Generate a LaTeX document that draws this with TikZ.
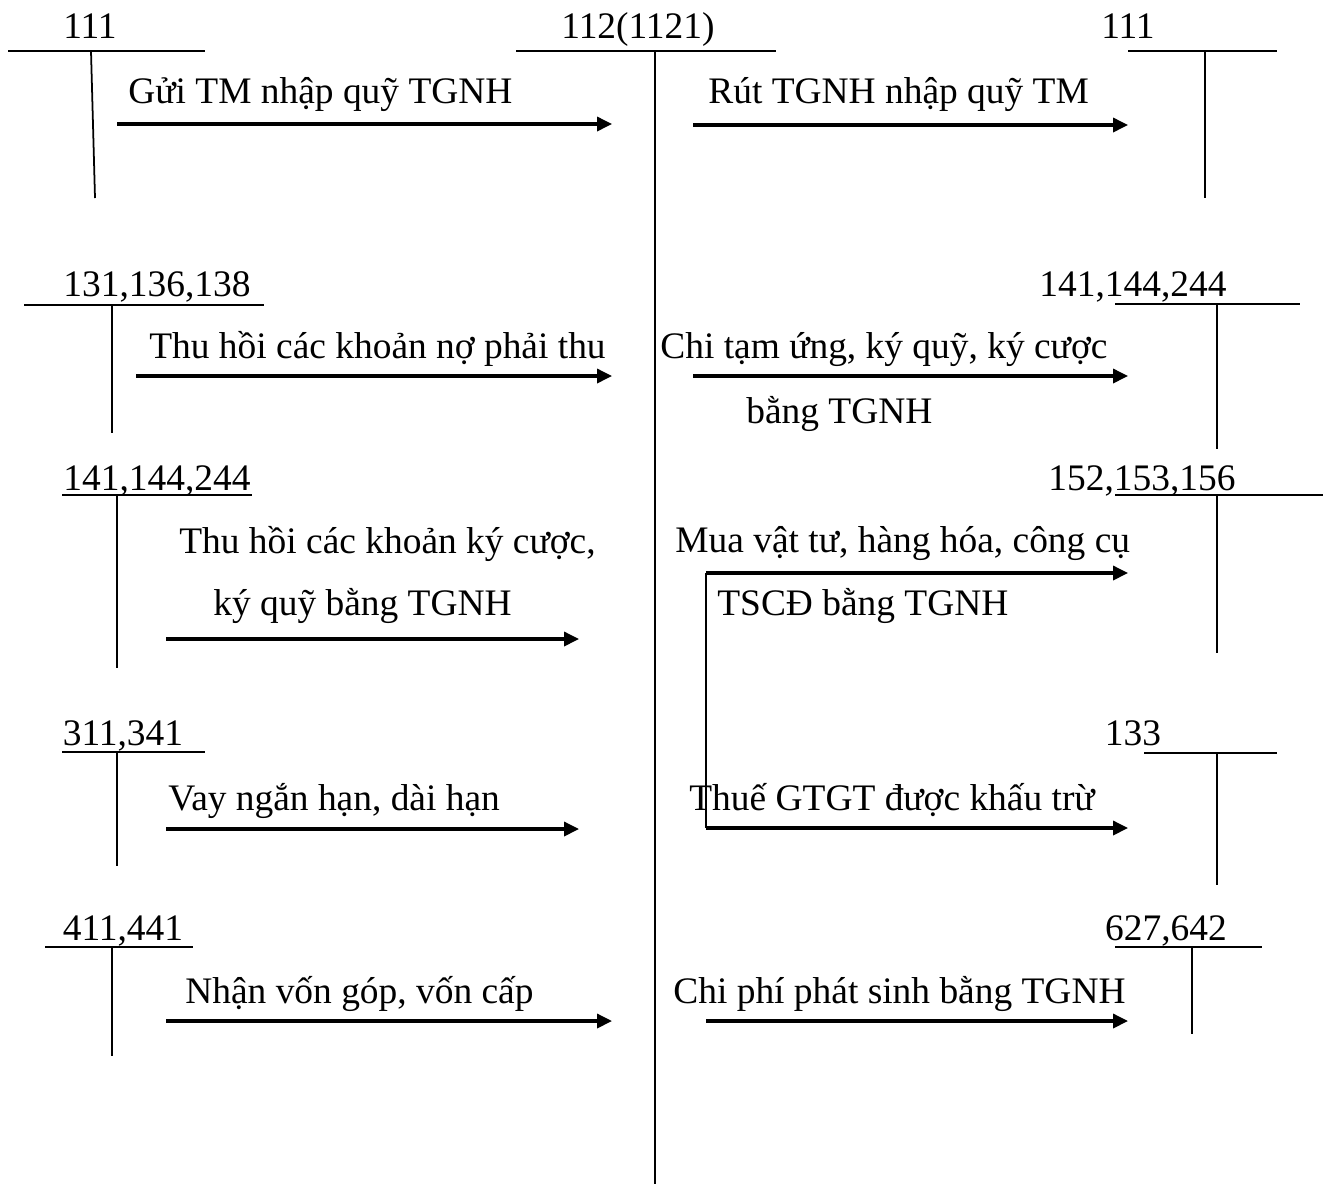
\documentclass[tikz,border=0pt]{standalone}
\usepackage{fontspec}
\setmainfont{Liberation Serif}
\usetikzlibrary{arrows.meta}
\tikzset{
	acct/.style={anchor=base, inner sep=0pt},
	txt/.style={anchor=base west, inner sep=0pt},
	hline/.style={line width=1.3pt},
	vline/.style={line width=1pt},
	arr/.style={-{Triangle[length=8.5pt, width=8pt]}, line width=1.8pt}
}

\begin{document}
\begin{tikzpicture}[x=0.02cm, y={(0cm,-0.02cm)}, font=\fontsize{21.3}{26}\selectfont]
		\useasboundingbox (0,0) rectangle (1327,1184);

		% tai khoan trung tam
		\node[acct] (tk112) at (638,38) {112(1121)};
		\draw[hline] (516,51) -- (776,51);
		\draw[vline] (655,51) -- (655,1184);

		% ben trai
		\node[acct] (tk111a) at (90,38) {111};
		\draw[hline] (8,51) -- (205,51);
		\draw[vline] (91,51) -- (95,198);

		\node[acct] (tk131) at (157,296) {131,136,138};
		\draw[hline] (24,305) -- (264,305);
		\draw[vline] (112,305) -- (112,433);

		\node[acct] (tk141a) at (157,490) {141,144,244};
		\draw[hline] (62,495) -- (252,495);
		\draw[vline] (117,495) -- (117,668);

		\node[acct] (tk311) at (123,745) {311,341};
		\draw[hline] (62,752) -- (205,752);
		\draw[vline] (117,752) -- (117,866);

		\node[acct] (tk411) at (123,940) {411,441};
		\draw[hline] (45,947) -- (193,947);
		\draw[vline] (112,947) -- (112,1056);

		% ben phai
		\node[acct] (tk111b) at (1128,38) {111};
		\draw[hline] (1128,51) -- (1277,51);
		\draw[vline] (1205,51) -- (1205,198);

		\node[acct] (tk141b) at (1133,296) {141,144,244};
		\draw[hline] (1115,304) -- (1300,304);
		\draw[vline] (1217,304) -- (1217,449);

		\node[acct] (tk152) at (1142,490) {152,153,156};
		\draw[hline] (1115,495) -- (1323,495);
		\draw[vline] (1217,495) -- (1217,653);

		\node[acct] (tk133) at (1133,745) {133};
		\draw[hline] (1144,753) -- (1277,753);
		\draw[vline] (1217,753) -- (1217,885);

		\node[acct] (tk627) at (1166,940) {627,642};
		\draw[hline] (1115,947) -- (1262,947);
		\draw[vline] (1192,947) -- (1192,1034);

		% nghiep vu
		\node[txt] (gui) at (128,103) {Gửi TM nhập quỹ TGNH};
		\node[txt] (rut) at (708,103) {Rút TGNH nhập quỹ TM};
		\node[txt] (thuno) at (149,358) {Thu hồi các khoản nợ phải thu};
		\node[txt] (chitu) at (660,358) {Chi tạm ứng, ký quỹ, ký cược};
		\node[txt] (chitu2) at (746,423) {bằng TGNH};
		\node[txt] (thukq) at (179,553) {Thu hồi các khoản ký cược,};
		\node[txt] (thukq2) at (213,615) {ký quỹ bằng TGNH};
		\node[txt] (mua) at (675,552) {Mua vật tư, hàng hóa, công cụ};
		\node[txt] (mua2) at (717,615) {TSCĐ bằng TGNH};
		\node[txt] (vay) at (168,810) {Vay ngắn hạn, dài hạn};
		\node[txt] (thue) at (689,810) {Thuế GTGT được khấu trừ};
		\node[txt] (von) at (185,1003) {Nhận vốn góp, vốn cấp};
		\node[txt] (chiphi) at (673,1003) {Chi phí phát sinh bằng TGNH};

		\coordinate (a1) at (117,124);  \coordinate (b1) at (612,124);
		\coordinate (a2) at (693,125);  \coordinate (b2) at (1128,125);
		\coordinate (a3) at (136,376);  \coordinate (b3) at (612,376);
		\coordinate (a4) at (693,376);  \coordinate (b4) at (1128,376);
		\coordinate (a5) at (166,639);  \coordinate (b5) at (579,639);
		\coordinate (a6) at (706,573);  \coordinate (b6) at (1128,573);
		\coordinate (a7) at (166,829);  \coordinate (b7) at (579,829);
		\coordinate (a8) at (706,828);  \coordinate (b8) at (1128,828);
		\coordinate (a9) at (166,1021); \coordinate (b9) at (612,1021);
		\coordinate (a10) at (706,1021); \coordinate (b10) at (1128,1021);

		\draw[arr] (a1) -- (b1);
		\draw[arr] (a2) -- (b2);
		\draw[arr] (a3) -- (b3);
		\draw[arr] (a4) -- (b4);
		\draw[arr] (a5) -- (b5);
		\draw[arr] (a6) -- (b6);
		\draw[arr] (a7) -- (b7);
		\draw[vline] (a6) -- (a8);
		\draw[arr] (a8) -- (b8);
		\draw[arr] (a9) -- (b9);
		\draw[arr] (a10) -- (b10);
	\end{tikzpicture}
\end{document}
